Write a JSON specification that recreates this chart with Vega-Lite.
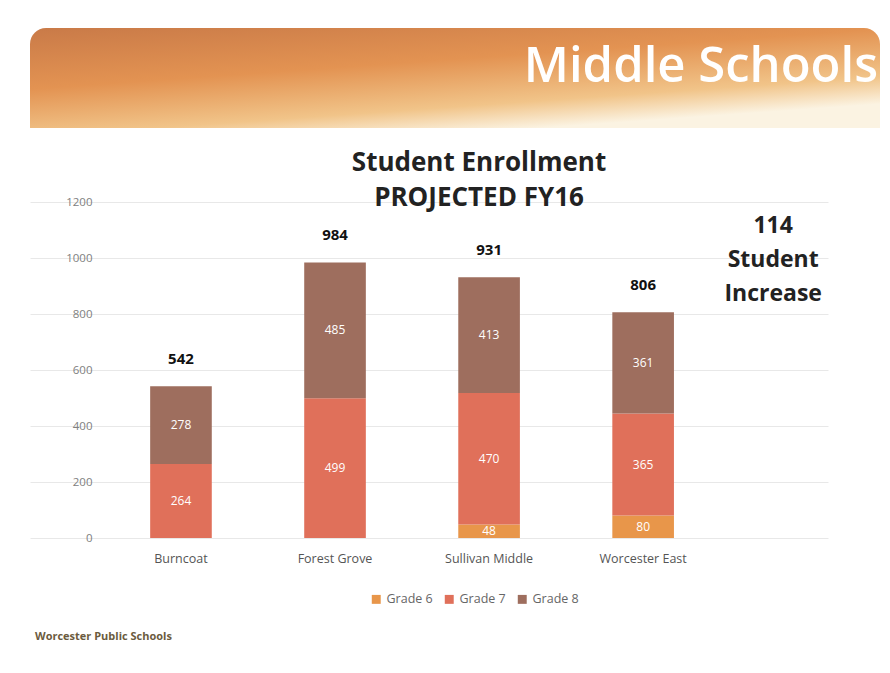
{
  "$schema": "https://vega.github.io/schema/vega-lite/v6.json",
  "background": "white",
  "padding": {"top": 28, "left": 30, "right": 5, "bottom": 5},
  "spacing": 22,
  "config": {
    "font": "Open Sans",
    "view": {"stroke": null}
  },
  "datasets": {
    "enroll": [
      {"school": "Burncoat", "grade": "Grade 6", "students": 0},
      {"school": "Burncoat", "grade": "Grade 7", "students": 264},
      {"school": "Burncoat", "grade": "Grade 8", "students": 278},
      {"school": "Forest Grove", "grade": "Grade 6", "students": 0},
      {"school": "Forest Grove", "grade": "Grade 7", "students": 499},
      {"school": "Forest Grove", "grade": "Grade 8", "students": 485},
      {"school": "Sullivan Middle", "grade": "Grade 6", "students": 48},
      {"school": "Sullivan Middle", "grade": "Grade 7", "students": 470},
      {"school": "Sullivan Middle", "grade": "Grade 8", "students": 413},
      {"school": "Worcester East", "grade": "Grade 6", "students": 80},
      {"school": "Worcester East", "grade": "Grade 7", "students": 365},
      {"school": "Worcester East", "grade": "Grade 8", "students": 361}
    ],
    "totals": [
      {"school": "Burncoat", "total": 542},
      {"school": "Forest Grove", "total": 984},
      {"school": "Sullivan Middle", "total": 931},
      {"school": "Worcester East", "total": 806}
    ],
    "note": [
      {"slot": " ", "level": 1114, "text": "114\nStudent\nIncrease"}
    ],
    "banner": [
      {"label": "Middle Schools"}
    ]
  },
  "title": {
    "text": "Worcester Public Schools",
    "orient": "bottom",
    "anchor": "start",
    "frame": "bounds",
    "fontSize": 11,
    "fontWeight": "bold",
    "color": "#6b5b3e",
    "dx": 5,
    "offset": 25
  },
  "vconcat": [
    {
      "width": 850,
      "height": 100,
      "data": {"name": "banner"},
      "layer": [
        {
          "mark": {
            "type": "rect",
            "cornerRadiusTopLeft": 16,
            "cornerRadiusTopRight": 16,
            "fill": {
              "gradient": "linear",
              "x1": 0, "y1": 0, "x2": 0.6, "y2": 1,
              "stops": [
                {"offset": 0, "color": "#c97a48"},
                {"offset": 0.45, "color": "#e39352"},
                {"offset": 0.8, "color": "#f1c489"},
                {"offset": 1, "color": "#fbf3e2"}
              ]
            }
          },
          "encoding": {}
        },
        {
          "mark": {
            "type": "text",
            "align": "right",
            "baseline": "middle",
            "dx": 423,
            "dy": -11,
            "fontSize": 49,
            "fontWeight": 600,
            "color": "white"
          },
          "encoding": {"text": {"field": "label"}}
        }
      ]
    },
    {
      "width": 798,
      "height": 336,
      "title": {
        "text": ["Student Enrollment", "PROJECTED FY16"],
        "fontSize": 26,
        "fontWeight": "bold",
        "color": "#222222",
        "lineHeight": 35,
        "offset": -15,
        "anchor": "middle",
        "frame": "group",
        "dx": 50
      },
      "layer": [
        {
          "data": {"name": "enroll"},
          "mark": {"type": "bar"},
          "encoding": {
            "x": {
              "field": "school",
              "type": "nominal",
              "scale": {
                "domain": ["Burncoat", "Forest Grove", "Sullivan Middle", "Worcester East", " "],
                "paddingInner": 0.6,
                "paddingOuter": 0.39,
                "align": 1
              },
              "axis": {
                "title": null,
                "labelAngle": 0,
                "labelColor": "#555555",
                "labelFontSize": 12.5,
                "labelPadding": 14,
                "ticks": false,
                "domain": false
              }
            },
            "y": {
              "field": "students",
              "type": "quantitative",
              "stack": "zero",
              "scale": {"domain": [0, 1200]},
              "axis": {
                "title": null,
                "values": [0, 200, 400, 600, 800, 1000, 1200],
                "format": "d",
                "offset": -74,
                "labelColor": "#808080",
                "labelFontSize": 11.5,
                "labelPadding": 12,
                "ticks": false,
                "domain": false,
                "gridColor": "#e8e8e8"
              }
            },
            "color": {
              "field": "grade",
              "type": "nominal",
              "scale": {
                "domain": ["Grade 6", "Grade 7", "Grade 8"],
                "range": ["#e8964a", "#e0705a", "#9e6e5e"]
              },
              "legend": {
                "title": null,
                "orient": "none",
                "legendX": 340,
                "legendY": 565,
                "direction": "horizontal",
                "symbolType": "square",
                "symbolSize": 80,
                "symbolStrokeWidth": 0,
                "labelFontSize": 12.5,
                "labelColor": "#666666",
                "columnPadding": 10
              }
            },
            "order": {"field": "grade", "sort": "ascending"}
          }
        },
        {
          "data": {"name": "enroll"},
          "transform": [{"filter": "datum.students > 0"}],
          "mark": {"type": "text", "color": "white", "fontSize": 12, "baseline": "middle"},
          "encoding": {
            "x": {"field": "school", "type": "nominal"},
            "y": {"field": "students", "type": "quantitative", "stack": "zero", "bandPosition": 0.5},
            "text": {"field": "students", "type": "quantitative"},
            "order": {"field": "grade", "sort": "ascending"}
          }
        },
        {
          "data": {"name": "totals"},
          "mark": {"type": "text", "color": "#111111", "fontSize": 15, "fontWeight": "bold", "dy": -27, "baseline": "middle"},
          "encoding": {
            "x": {"field": "school", "type": "nominal"},
            "y": {"field": "total", "type": "quantitative"},
            "text": {"field": "total", "type": "quantitative"}
          }
        },
        {
          "data": {"name": "note"},
          "mark": {"type": "text", "color": "#222222", "fontSize": 23, "fontWeight": "bold", "lineHeight": 34, "baseline": "middle", "dx": -24, "lineBreak": "\n"},
          "encoding": {
            "x": {"field": "slot", "type": "nominal"},
            "y": {"field": "level", "type": "quantitative"},
            "text": {"field": "text"}
          }
        }
      ]
    }
  ]
}
